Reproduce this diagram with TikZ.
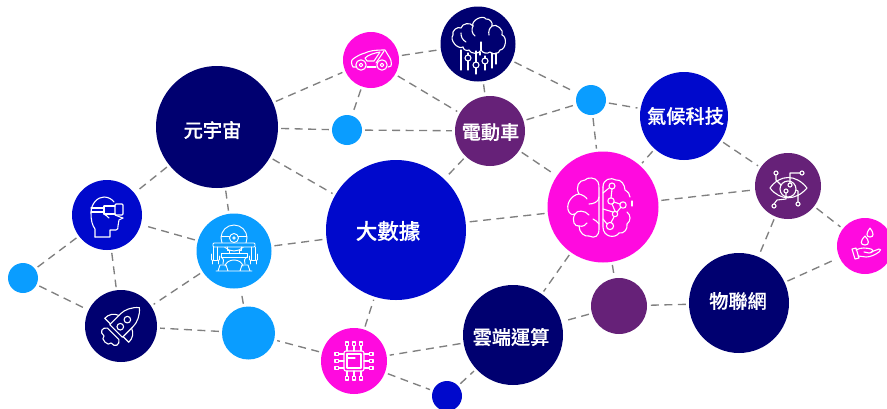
\documentclass[tikz,border=0pt]{standalone}
\usepackage{fontspec}
\newfontfamily\cjkb[FakeBold=0.35]{Noto Sans CJK TC Medium}
\definecolor{cnavy}{HTML}{000070}
\definecolor{cblue}{HTML}{0009CC}
\definecolor{clight}{HTML}{0A9DFF}
\definecolor{cmag}{HTML}{FF0ADF}
\definecolor{cpur}{HTML}{662178}
\tikzset{
  bub/.style={circle,inner sep=0pt},
  lab/.style={inner sep=0pt,text=white,font=\cjkb\fontsize{19.2}{19.2}\selectfont},
  link/.style={draw=black!50,line width=1.35pt,dash pattern=on 8pt off 5.5pt,shorten >=3pt,shorten <=3pt},
  icon/.style={draw=white,line width=1.1pt,line join=round,line cap=round,fill=none},
  iconthin/.style={icon,line width=0.9pt},
}
\begin{document}
\begin{tikzpicture}[x=1pt,y=-1pt]
\useasboundingbox (0,0) rectangle (887,408);
\path[fill=white] (0,0) rectangle (887,408);
\path
 (217,127) node[bub,minimum size=122pt] (meta) {}
 (396,230) node[bub,minimum size=140pt] (data) {}
 (371,60) node[bub,minimum size=56pt] (car) {}
 (478,44) node[bub,minimum size=75pt] (tree) {}
 (347,130) node[bub,minimum size=30pt] (sa) {}
 (490,131) node[bub,minimum size=70pt] (ev) {}
 (591,100) node[bub,minimum size=30pt] (sb) {}
 (684,116) node[bub,minimum size=88pt] (clim) {}
 (603,207) node[bub,minimum size=111pt] (brain) {}
 (788,186) node[bub,minimum size=66pt] (eye) {}
 (865,246) node[bub,minimum size=56pt] (water) {}
 (739,303) node[bub,minimum size=100pt] (iot) {}
 (619,306) node[bub,minimum size=56pt] (pur) {}
 (513,335) node[bub,minimum size=100pt] (cloud) {}
 (354,361) node[bub,minimum size=66pt] (chip) {}
 (447,396) node[bub,minimum size=30pt] (sc) {}
 (248.5,333) node[bub,minimum size=53pt] (lt) {}
 (234,251) node[bub,minimum size=75pt] (robot) {}
 (107,215) node[bub,minimum size=70pt] (vr) {}
 (23,278) node[bub,minimum size=30pt] (sd) {}
 (121,326) node[bub,minimum size=72pt] (rocket) {};
\foreach \a/\b in {meta/car,meta/sa,meta/data,meta/vr,meta/robot,car/tree,car/sa,car/ev,tree/ev,tree/sb,sa/ev,ev/sb,ev/data,ev/brain,sb/brain,sb/clim,clim/brain,clim/eye,brain/data,brain/eye,brain/pur,brain/cloud,eye/water,eye/iot,iot/water,iot/pur,pur/cloud,cloud/chip,chip/data,chip/sc,sc/cloud,chip/lt,lt/robot,lt/rocket,robot/rocket,robot/vr,robot/data,vr/rocket,vr/sd,sd/rocket}
  \draw[link] (\a) -- (\b);
\foreach \n/\s/\c in {meta/122/cnavy,data/140/cblue,car/56/cmag,tree/75/cnavy,sa/30/clight,ev/70/cpur,sb/30/clight,clim/88/cblue,brain/111/cmag,eye/66/cpur,water/56/cmag,iot/100/cnavy,pur/56/cpur,cloud/100/cnavy,chip/66/cmag,sc/30/cblue,lt/53/clight,robot/75/clight,vr/70/cblue,sd/30/clight,rocket/72/cnavy}
  \fill[\c] (\n) circle (\s/2);
% labels
\node[lab] (tmeta) at (212.5,130) {元宇宙};
\node[lab,font=\cjkb\fontsize{21.5}{21.5}\selectfont] (tdata) at (388,231) {大數據};
\node[lab] (tev) at (490.5,132) {電動車};
\node[lab] (tclim) at (685.5,116) {氣候科技};
\node[lab] (tiot) at (738,301) {物聯網};
\node[lab] (tcloud) at (511,337) {雲端運算};
% car icon
\begin{scope}[shift={(371,60)}]
\draw[icon] (-15,7) -- (-18,7) .. controls (-20,4) and (-20,0) .. (-18,-1) .. controls (-14,-4) and (-10,-6) .. (-6,-7) .. controls (-2,-9) and (3,-10) .. (14,-10) -- (17,-5) .. controls (20,-1) and (21,3) .. (20,6) -- (17,7);
\draw[icon] (-4,7) -- (5,7);
\draw[icon] (-6,-2) .. controls (-3,-5) and (3,-7) .. (9,-8) -- (3,1) -- (-4,1) -- (-6,-2);
\draw[icon] (13,-9) -- (5,3);
\draw[icon] (-10,5) circle (5.2) (-10,5) circle (1.8) (11,5) circle (5.2) (11,5) circle (1.8);
\end{scope}
% tree-brain icon
\begin{scope}[shift={(478,44)}]
\draw[icon] (-15,3) to[bend left=80] (-25,-9) to[bend left=75] (-17,-16) to[bend left=70] (-5,-18) to[bend left=85] (8,-25) to[bend left=60] (14,-18) to[bend left=80] (24,-9) to[bend left=80] (22,6) to[bend left=70] (12,8) to[bend left=50] (3,6);
\draw[icon] (-15,3) to[bend right=60] (-9,6) to[bend right=70] (3,6);
\draw[icon] (-17,-11) to[bend right=30] (-12,-2);
\draw[icon] (-5,-18) to[bend right=40] (-3,-8) (14,-18) to[bend right=30] (11,-9);
\draw[icon] (3,-2) -- (3,6) (2,8) -- (2,11);
\draw[icon] (-17,6) -- (-17,26) (-10,9) -- (-10,11) (-10,17) -- (-10,26)  (-2,7) -- (-2,18) (-2,24) -- (-2,30) (7,12) -- (7,14) (7,20) -- (7,26) (14,9) -- (14,24) (18,9) -- (18,20);
\draw[icon] (-10,14) circle (3) (-2,21) circle (3) (7,17) circle (3);
\end{scope}
% brain icon
\begin{scope}[shift={(603,207)}]
\draw[icon] (-5,-25) .. controls (-7,-30) and (-16,-30) .. (-18,-27) .. controls (-24,-27) and (-28,-20) .. (-24,-13) .. controls (-32,-12) and (-38,-2) .. (-34,5) .. controls (-32,8) and (-30,8) .. (-28,7) .. controls (-32,14) and (-28,20) .. (-24,19) .. controls (-24,26) and (-18,30) .. (-14,29) .. controls (-8,32) and (-4,29) .. (-4,22) -- (-4,-18) .. controls (-4,-21) and (-4,-23) .. (-5,-25);
\draw[icon] (-24,-13) .. controls (-20,-12) and (-17,-10) .. (-16,-8);
\draw[icon] (-4,-10) .. controls (-4,-5) and (-10,-3) .. (-14,-3);
\draw[icon] (-28,7) .. controls (-26,3) and (-18,3) .. (-14,8);
\draw[icon] (-24,19) .. controls (-20,20) and (-17,18) .. (-16,16);
\draw[icon] (-4,17) .. controls (-5,15) and (-8,13) .. (-10,12);
\draw[icon] (0,-20) .. controls (0,-28) and (8,-30) .. (13,-27) .. controls (18,-28) and (22,-22) .. (22,-17) .. controls (25,-15) and (27,-13) .. (27,-10);
\draw[icon] (0,-20) -- (0,20) .. controls (0,30) and (12,32) .. (16,26) .. controls (21,27) and (25,22) .. (24,17) .. controls (28,14) and (28,8) .. (24,5);
\draw[icon] (29,-6) -- (29,-1);
\draw[icon] (9,-21) circle (3) (8,-6) circle (3.2) (20,-2) circle (3.2) (12,7) circle (2.7) (7,19) circle (3.6);
\draw[icon] (6,-19) -- (0,-14) (9,-18) -- (8,-9) (11,-5) -- (17,-3) (9,-3) -- (12,4) (14,5) -- (18,0) (10,5) -- (0,2) (11,10) -- (8,15.5) (4,17) -- (0,12);
\end{scope}
% eye icon
\begin{scope}[shift={(788,186)}]
\draw[icon] (-18,2) .. controls (-8,-12) and (8,-12) .. (19,2) .. controls (8,15) and (-8,15) .. (-18,2);
\draw[icon] (0,3) circle (8);
\draw[icon] (-12,-13) circle (2) (14,-13) circle (2) (-14,20) circle (2) (10,18) circle (2) (2,-1) circle (2) (-2,5) circle (2);
\draw[icon] (12,-13) -- (2,-13) -- (2,-3) (-12,-11) -- (-12,-6) -- (-7,-1) (-2,7) -- (-2,13) -- (-11,14) -- (-14,18) (10,16) -- (10,5) -- (8,4);
\end{scope}
% water icon
\begin{scope}[shift={(865,246)}]
\draw[icon] (5,-18) .. controls (1,-13) and (1,-9) .. (5,-9) .. controls (9,-9) and (9,-13) .. (5,-18);
\draw[icon] (0,-10) .. controls (-5,-5) and (-5,-1) .. (0,-1) .. controls (5,-1) and (4,-6) .. (0,-10);
\draw[icon] (-13,3) -- (-9,2) -- (-6,12) -- (-10,13) -- (-13,3);
\draw[icon] (-9,4) .. controls (-4,1) and (2,2) .. (6,3) .. controls (9,4) and (8,7) .. (4,7) -- (-1,6) (6,6) -- (14,3) .. controls (16,2) and (16,5) .. (14,6) .. controls (10,9) and (5,11) .. (1,11) -- (-7,10);
\end{scope}
% chip icon
\begin{scope}[shift={(354,361)}]
\draw[icon,rounded corners=2pt] (-10,-10) rectangle (10,10);
\draw[icon] (-7,-7) rectangle (7,7) (-7,-3) -- (1,-3);
\foreach \q in {-7,0,7}{
 \draw[icon] (\q,-10) -- (\q,-15) (\q,10) -- (\q,15) (-10,\q) -- (-15,\q) (10,\q) -- (15,\q);
 \draw[icon] (\q-1.8,-19) rectangle (\q+1.8,-15.5) (\q-1.8,15.5) rectangle (\q+1.8,19) (-19,\q-1.8) rectangle (-15.5,\q+1.8) (15.5,\q-1.8) rectangle (19,\q+1.8);
}
\end{scope}
% robot icon
\begin{scope}[shift={(234,251)}]
\draw[iconthin] (0,-13) circle (13) (0,-13) circle (4.5) (0,-13) circle (1.2);
\draw[iconthin] (-13,-15) -- (-4.5,-15) (4.5,-15) -- (13,-15);
\draw[iconthin,rounded corners=1pt,fill=clight] (-21,-8) rectangle (21,-4);
\draw[iconthin] (-7,-4) -- (-7,-1) -- (-5,-1) -- (-5,2) (7,-4) -- (7,-1) -- (5,-1) -- (5,2);
\draw[iconthin] (-13,2) rectangle (13,6);
\draw[iconthin] (-13,6) .. controls (-10,8) and (-10,10) .. (-11,13) (13,6) .. controls (10,8) and (10,10) .. (11,13);
\draw[iconthin] (-9,15) .. controls (-7,7) and (7,7) .. (9,15);
\draw[iconthin] (-16,20) -- (-14,14) -- (-8,14) -- (-6,20) (16,20) -- (14,14) -- (8,14) -- (6,20) (-18,20) -- (18,20);
\foreach \s in {-1,1}{
 \draw[iconthin] (\s*17,-4) -- (\s*17,9) -- (\s*21,9) -- (\s*21,-4) (\s*15,5) -- (\s*15,9) (\s*23,3) -- (\s*23,9);
 \draw[iconthin] (\s*16,9) -- (\s*16,13) (\s*22,9) -- (\s*22,13);
}
\end{scope}
% vr icon
\begin{scope}[shift={(107,215)}]
\draw[icon] (-12,22) -- (3,22) -- (3,15) -- (9,15) .. controls (11,15) and (11,13) .. (11,11) -- (12,5) -- (16,3);
\draw[icon] (-12,22) -- (-12,14) .. controls (-15,10) and (-16,5) .. (-16,-2) .. controls (-16,-12) and (-9,-18) .. (-3,-18) .. controls (1,-18) and (5,-16) .. (7,-13);
\draw[icon] (-16,-7) -- (-3,-7) (-16,-3) -- (-3,-3) (-3,-9) -- (8,-9) (-3,-9) -- (-3,-1) -- (8,-1);
\draw[icon,rounded corners=1pt] (8,-11) rectangle (16,0);
\draw[icon] (-3,-1) .. controls (-1,1) and (1,1) .. (2,3) (8,0) -- (13,2) -- (16,3);
\end{scope}
% rocket icon
\begin{scope}[shift={(121,326)},rotate=-45]
\draw[icon] (0,-26) .. controls (-6,-21) and (-9,-14) .. (-9,-8) -- (-9,7) -- (9,7) -- (9,-8) .. controls (9,-14) and (6,-21) .. (0,-26);
\draw[icon] (0,-9) circle (3.3) (0,1) circle (3.3);
\draw[icon] (-9,-6) .. controls (-14,-4) and (-17,0) .. (-17,6) -- (-9,6);
\draw[icon] (9,-6) .. controls (14,-4) and (17,0) .. (17,6) -- (9,6);
\draw[icon] (-8,11) .. controls (-13,14) and (-11,20) .. (-5,19) .. controls (-6,24) and (6,24) .. (5,19) .. controls (11,20) and (13,14) .. (8,11) -- (-8,11);
\end{scope}
\end{tikzpicture}
\end{document}
